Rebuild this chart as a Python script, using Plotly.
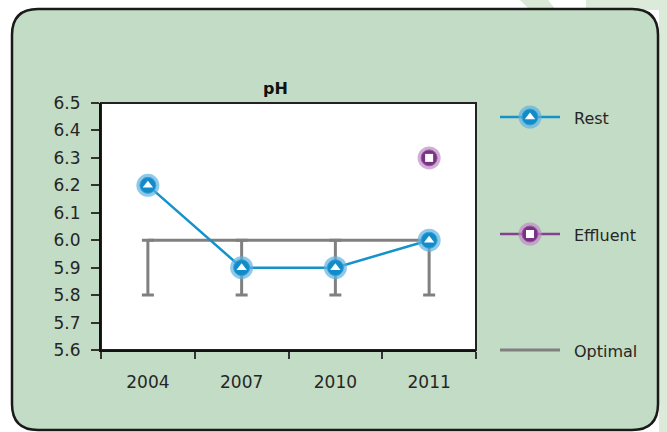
import plotly.graph_objects as go

# ---- data ----
years = ["2004", "2007", "2010", "2011"]
rest = [6.2, 5.9, 5.9, 6.0]
effluent = [None, None, None, 6.3]
optimal = [6.0, 6.0, 6.0, 6.0]
optimal_low = [0.2, 0.2, 0.2, 0.2]
y_ticks = [5.6, 5.7, 5.8, 5.9, 6.0, 6.1, 6.2, 6.3, 6.4, 6.5]
title_text = "pH"
legend_names = ["Rest", "Effluent", "Optimal"]

# ---- styles ----
W, H = 667, 432
FONT = "DejaVu Sans"
TXT = "#262626"
GREEN = "#c3dcc5"
BLUE = "#118cca"
BLUE_LINE = "#1492ca"
BLUE_HALO = "rgba(95,178,224,0.7)"
BLUE_EDGE = "#3aa0d6"
PURPLE = "#7a3186"
PURPLE_LINE = "#87408f"
PURPLE_HALO = "rgba(190,140,196,0.7)"
PURPLE_EDGE = "#9a5aa2"
GRAY = "#808080"

# plot area in pixels
PL, PR, PT, PB = 101, 476, 103, 350


def px(x):
    return x / W


def py(y):
    return 1 - y / H


fig = go.Figure()

# Optimal: line with downward error bars
fig.add_trace(go.Scatter(
    x=years, y=optimal, mode="lines", name="Optimal",
    line=dict(color=GRAY, width=3),
    error_y=dict(type="data", symmetric=False, array=[0] * 4,
                 arrayminus=optimal_low, color=GRAY, thickness=3, width=6),
    showlegend=False, xaxis="x", yaxis="y"))

# Rest
fig.add_trace(go.Scatter(
    x=years, y=rest, mode="lines", line=dict(color=BLUE_LINE, width=2.5),
    showlegend=False, hoverinfo="skip"))
fig.add_trace(go.Scatter(
    x=years, y=rest, mode="markers", name="Rest",
    marker=dict(symbol="circle", size=23, color=BLUE_HALO),
    showlegend=False, hoverinfo="skip"))
fig.add_trace(go.Scatter(
    x=years, y=rest, mode="markers", name="Rest",
    marker=dict(symbol="circle", size=16, color=BLUE,
                line=dict(color=BLUE_EDGE, width=1)),
    showlegend=False))
fig.add_trace(go.Scatter(
    x=years, y=rest, mode="markers",
    marker=dict(symbol="triangle-up", size=9, color="white", line=dict(width=0)),
    showlegend=False, hoverinfo="skip"))

# Effluent
fig.add_trace(go.Scatter(
    x=years, y=effluent, mode="markers",
    marker=dict(symbol="circle", size=23, color=PURPLE_HALO),
    showlegend=False, hoverinfo="skip"))
fig.add_trace(go.Scatter(
    x=years, y=effluent, mode="markers", name="Effluent",
    marker=dict(symbol="circle", size=16, color=PURPLE,
                line=dict(color=PURPLE_EDGE, width=1)),
    showlegend=False))
fig.add_trace(go.Scatter(
    x=years, y=effluent, mode="markers",
    marker=dict(symbol="square", size=8, color="white", line=dict(width=0)),
    showlegend=False, hoverinfo="skip"))

# ---- hand-built legend on a full-figure pixel axis ----
leg_y = [117, 234, 350]
leg_x0, leg_x1, leg_mid, leg_text = 500, 560, 530, 572
for name, ly in zip(legend_names, leg_y):
    if name == "Rest":
        lc, halo, core, edge, sym, ssize = BLUE_LINE, BLUE_HALO, BLUE, BLUE_EDGE, "triangle-up", 9
    elif name == "Effluent":
        lc, halo, core, edge, sym, ssize = PURPLE_LINE, PURPLE_HALO, PURPLE, PURPLE_EDGE, "square", 8
    else:
        lc = GRAY
    fig.add_trace(go.Scatter(
        x=[leg_x0, leg_x1], y=[ly, ly], mode="lines",
        line=dict(color=lc, width=3 if name == "Optimal" else 2.5),
        xaxis="x2", yaxis="y2", showlegend=False, hoverinfo="skip"))
    if name != "Optimal":
        fig.add_trace(go.Scatter(x=[leg_mid], y=[ly], mode="markers",
                                 marker=dict(size=23, color=halo),
                                 xaxis="x2", yaxis="y2", showlegend=False, hoverinfo="skip"))
        fig.add_trace(go.Scatter(x=[leg_mid], y=[ly], mode="markers",
                                 marker=dict(size=16, color=core, line=dict(color=edge, width=1)),
                                 xaxis="x2", yaxis="y2", showlegend=False, hoverinfo="skip"))
        fig.add_trace(go.Scatter(x=[leg_mid], y=[ly], mode="markers",
                                 marker=dict(symbol=sym, size=ssize, color="white", line=dict(width=0)),
                                 xaxis="x2", yaxis="y2", showlegend=False, hoverinfo="skip"))

annotations = [
    dict(text="<b>" + title_text + "</b>", x=px(275), y=py(89), xref="paper", yref="paper",
         xanchor="center", yanchor="middle", showarrow=False,
         font=dict(family=FONT, size=16, color="#111")),
]
for name, ly in zip(legend_names, leg_y):
    annotations.append(dict(text=name, x=px(leg_text), y=py(ly + 1), xref="paper", yref="paper",
                            xanchor="left", yanchor="middle", showarrow=False,
                            font=dict(family=FONT, size=16, color=TXT)))

# rounded outer panel
x0, x1, y0, y1, r = 12, 658, 9, 430, 26
rx, ry = r / W, r / H
X0, X1, Y0, Y1 = px(x0), px(x1), py(y0), py(y1)
path = (f"M{X0 + rx},{Y0} L{X1 - rx},{Y0} Q{X1},{Y0} {X1},{Y0 - ry} "
        f"L{X1},{Y1 + ry} Q{X1},{Y1} {X1 - rx},{Y1} "
        f"L{X0 + rx},{Y1} Q{X0},{Y1} {X0},{Y1 + ry} "
        f"L{X0},{Y0 - ry} Q{X0},{Y0} {X0 + rx},{Y0} Z")

shapes = [
    # faint decorative stripes outside the panel
    dict(type="path", xref="paper", yref="paper", layer="below",
         path=f"M{px(520)},{py(0)} L{px(548)},{py(0)} L{px(556)},{py(10)} L{px(530)},{py(10)} Z",
         fillcolor="#d8e9d6", line=dict(width=0)),
    dict(type="path", xref="paper", yref="paper", layer="below",
         path=f"M{px(586)},{py(0)} L{px(667)},{py(0)} L{px(667)},{py(432)} L{px(659)},{py(432)} L{px(659)},{py(10)} L{px(586)},{py(10)} Z",
         fillcolor="#dcebd9", line=dict(width=0)),
    dict(type="path", xref="paper", yref="paper", layer="below", path=path,
         fillcolor=GREEN, line=dict(color="#1a1a1a", width=2.5)),
    dict(type="rect", xref="paper", yref="paper", layer="below",
         x0=px(PL), x1=px(PR), y0=py(PB), y1=py(PT),
         fillcolor="white", line=dict(color="#222", width=2)),
]

fig.update_layout(
    template="none",
    width=W, height=H,
    margin=dict(l=0, r=0, t=0, b=0, pad=0, autoexpand=False),
    paper_bgcolor="white",
    plot_bgcolor="rgba(0,0,0,0)",
    showlegend=False,
    font=dict(family=FONT, size=16, color=TXT),
    xaxis=dict(domain=[px(PL), px(PR)], type="category", range=[-0.5, 3.5],
               tickson="boundaries", ticks="outside", ticklen=7, tickwidth=1.5,
               tickcolor="#333", showline=True, linecolor="#111", linewidth=2,
               showgrid=False, zeroline=False, ticklabelstandoff=16, automargin=False,
               tickfont=dict(family=FONT, size=17, color=TXT), anchor="y"),
    yaxis=dict(domain=[py(PB), py(PT)], range=[5.6, 6.5], tickvals=y_ticks,
               tickformat=".1f", ticks="outside", ticklen=8, tickwidth=2,
               tickcolor="#333", showline=True, linecolor="#111", linewidth=2,
               showgrid=False, zeroline=False, ticklabelstandoff=7, automargin=False,
               tickfont=dict(family=FONT, size=17, color=TXT), anchor="x"),
    xaxis2=dict(domain=[0, 1], range=[0, W], visible=False, anchor="y2",
                fixedrange=True, automargin=False, showgrid=False, zeroline=False),
    yaxis2=dict(domain=[0, 1], range=[H, 0], visible=False, anchor="x2",
                fixedrange=True, automargin=False, showgrid=False, zeroline=False),
    annotations=annotations,
    shapes=shapes,
)

fig.write_html("out.html", config={"displayModeBar": False},
               post_script="document.body.style.margin='0';document.body.style.overflow='hidden';")
